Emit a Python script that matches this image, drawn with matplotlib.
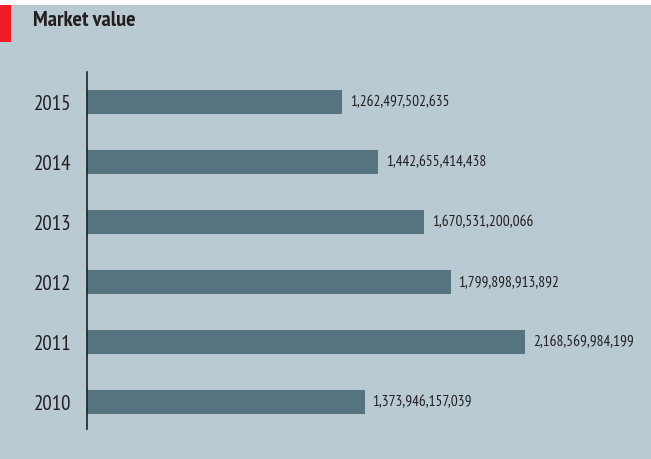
import matplotlib
matplotlib.use("Agg")
import matplotlib.pyplot as plt
from matplotlib.patches import Rectangle

plt.rcParams['font.family'] = ['PT Sans Narrow', 'Roboto Condensed',
                               'Archivo Narrow', 'DejaVu Sans']

years = ['2010', '2011', '2012', '2013', '2014', '2015']
values = [1373946157039, 2168569984199, 1799898913892,
          1670531200066, 1442655414438, 1262497502635]

bg = '#b9cad2'
bar_col = '#557480'
txt = '#231f20'

fig = plt.figure(figsize=(6.51, 4.59), dpi=100)
fig.patch.set_facecolor('white')

# panel background below the thin white strip
fig.patches.append(Rectangle((0, 0), 1, 1 - 5 / 459, transform=fig.transFigure,
                             facecolor=bg, edgecolor='none', zorder=-10))
# red tag next to the title
fig.patches.append(Rectangle((0, 1 - 42 / 459), 11 / 651, 37 / 459,
                             transform=fig.transFigure, facecolor='#ee1c25',
                             edgecolor='none', zorder=-9))
fig.text(33 / 651, 1 - 21 / 459, 'Market value', fontsize=16, fontweight='bold',
         color=txt, va='center', ha='left')

ax = fig.add_axes([87 / 651, 1 - 429 / 459, 553 / 651, 357 / 459])
ax.set_facecolor('none')

ypos = list(range(len(years)))
ax.barh(ypos, values, height=0.39, color=bar_col, zorder=2)

xmax = values[1] * 553 / 438
ax.set_xlim(0, xmax)
ax.set_ylim(-0.45, 5.5)

for y, v in zip(ypos, values):
    ax.text(v + xmax * 0.014, y, f'{v:,}', fontsize=11, color=txt,
            va='center', ha='left')

ax.set_yticks(ypos)
ax.set_yticklabels(years, fontsize=15, color=txt)
ax.tick_params(axis='y', length=0, pad=11)
ax.set_xticks([])
for s in ['top', 'right', 'bottom']:
    ax.spines[s].set_visible(False)
ax.spines['left'].set_color(txt)
ax.spines['left'].set_linewidth(1.2)

fig.savefig('out.png', dpi=100, facecolor=fig.get_facecolor())
